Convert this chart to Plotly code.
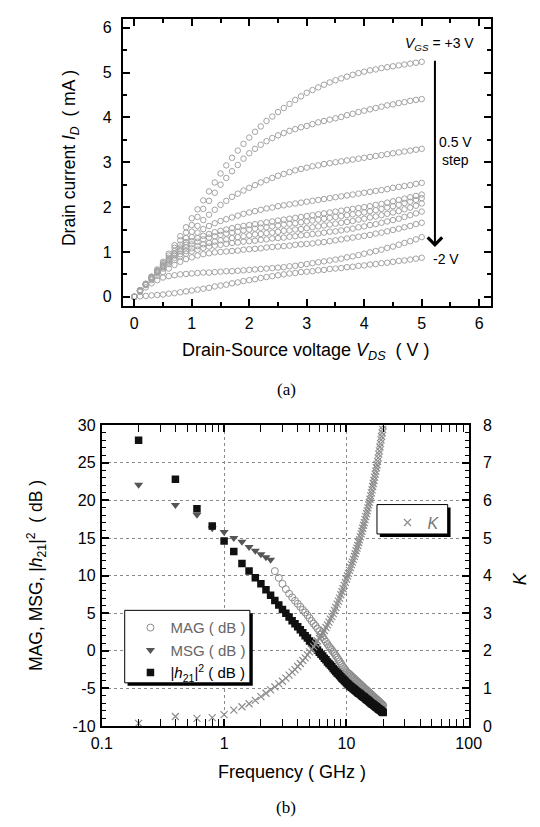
import plotly.graph_objects as go

W, H = 540, 827

# ---------------- (a) output characteristics ----------------
VDS = [0.0, 0.1, 0.2, 0.3, 0.4, 0.5, 0.6, 0.7, 0.8, 0.9, 1.0,
       1.1, 1.2, 1.3, 1.4, 1.5, 1.6, 1.7, 1.8, 1.9, 2.0,
       2.1, 2.2, 2.3, 2.4, 2.5, 2.6, 2.7, 2.8, 2.9, 3.0,
       3.1, 3.2, 3.3, 3.4, 3.5, 3.6, 3.7, 3.8, 3.9, 4.0,
       4.1, 4.2, 4.3, 4.4, 4.5, 4.6, 4.7, 4.8, 4.9, 5.0]

VGS_LABELS = ["+3", "+2.5", "+2", "+1.5", "+1", "+0.5", "0", "-0.5", "-1", "-1.5", "-2"]

ID_P3_0 = [0, 0.14, 0.29, 0.45, 0.61, 0.78, 0.96, 1.15, 1.35, 1.55, 1.75,
           1.95, 2.15, 2.35, 2.55, 2.75, 2.93, 3.10, 3.26, 3.41, 3.55,
           3.68, 3.80, 3.92, 4.02, 4.12, 4.21, 4.30, 4.39, 4.47, 4.55,
           4.61, 4.67, 4.73, 4.78, 4.83, 4.87, 4.91, 4.95, 4.99, 5.02,
           5.05, 5.07, 5.10, 5.12, 5.14, 5.16, 5.18, 5.20, 5.22, 5.24]
ID_P2_5 = [0, 0.14, 0.29, 0.44, 0.59, 0.75, 0.92, 1.09, 1.26, 1.43, 1.60,
           1.78, 1.96, 2.14, 2.32, 2.50, 2.65, 2.80, 2.94, 3.08, 3.20,
           3.30, 3.39, 3.47, 3.54, 3.60, 3.65, 3.70, 3.74, 3.78, 3.81,
           3.85, 3.89, 3.92, 3.95, 3.98, 4.01, 4.05, 4.08, 4.12, 4.15,
           4.18, 4.21, 4.24, 4.27, 4.29, 4.32, 4.34, 4.37, 4.39, 4.41]
ID_P2_0 = [0, 0.14, 0.28, 0.43, 0.57, 0.72, 0.87, 1.02, 1.16, 1.31, 1.45,
           1.58, 1.71, 1.83, 1.94, 2.05, 2.14, 2.23, 2.30, 2.37, 2.43,
           2.49, 2.55, 2.60, 2.65, 2.70, 2.74, 2.78, 2.82, 2.85, 2.88,
           2.91, 2.93, 2.96, 2.98, 3.00, 3.02, 3.04, 3.06, 3.08, 3.10,
           3.12, 3.14, 3.16, 3.18, 3.20, 3.22, 3.24, 3.26, 3.28, 3.30]
ID_P1_5 = [0, 0.14, 0.28, 0.42, 0.56, 0.70, 0.84, 0.97, 1.10, 1.22, 1.33,
           1.43, 1.51, 1.58, 1.64, 1.69, 1.73, 1.77, 1.81, 1.85, 1.88,
           1.91, 1.94, 1.97, 1.99, 2.02, 2.04, 2.06, 2.08, 2.10, 2.12,
           2.14, 2.16, 2.18, 2.20, 2.22, 2.24, 2.26, 2.28, 2.30, 2.32,
           2.34, 2.36, 2.38, 2.40, 2.43, 2.45, 2.47, 2.49, 2.52, 2.54]
ID_P1_0 = [0, 0.14, 0.28, 0.42, 0.56, 0.69, 0.82, 0.95, 1.06, 1.16, 1.24,
           1.31, 1.36, 1.40, 1.44, 1.47, 1.50, 1.53, 1.56, 1.58, 1.60,
           1.62, 1.64, 1.66, 1.68, 1.70, 1.72, 1.74, 1.76, 1.78, 1.80,
           1.82, 1.84, 1.86, 1.88, 1.90, 1.92, 1.94, 1.96, 1.98, 2.00,
           2.02, 2.05, 2.07, 2.10, 2.13, 2.16, 2.19, 2.22, 2.25, 2.28]
ID_P0_5 = [0, 0.14, 0.28, 0.42, 0.55, 0.68, 0.80, 0.92, 1.02, 1.10, 1.17,
           1.23, 1.28, 1.32, 1.35, 1.38, 1.41, 1.43, 1.45, 1.48, 1.50,
           1.52, 1.54, 1.55, 1.57, 1.59, 1.61, 1.63, 1.64, 1.66, 1.68,
           1.70, 1.72, 1.74, 1.76, 1.78, 1.80, 1.82, 1.84, 1.86, 1.88,
           1.91, 1.93, 1.96, 1.99, 2.02, 2.05, 2.09, 2.12, 2.16, 2.20]
ID_0_0 = [0, 0.14, 0.28, 0.41, 0.54, 0.66, 0.77, 0.87, 0.95, 1.02, 1.08,
          1.13, 1.17, 1.20, 1.23, 1.26, 1.28, 1.31, 1.33, 1.35, 1.37,
          1.39, 1.40, 1.42, 1.43, 1.45, 1.47, 1.48, 1.50, 1.51, 1.53,
          1.55, 1.57, 1.59, 1.61, 1.63, 1.65, 1.67, 1.69, 1.72, 1.74,
          1.77, 1.79, 1.82, 1.85, 1.88, 1.91, 1.95, 1.99, 2.03, 2.08]
ID_M0_5 = [0, 0.14, 0.27, 0.40, 0.52, 0.63, 0.73, 0.82, 0.90, 0.96, 1.01,
           1.05, 1.09, 1.12, 1.14, 1.16, 1.18, 1.20, 1.21, 1.23, 1.24,
           1.25, 1.27, 1.28, 1.30, 1.31, 1.32, 1.34, 1.35, 1.37, 1.38,
           1.40, 1.41, 1.43, 1.45, 1.46, 1.48, 1.50, 1.52, 1.55, 1.57,
           1.60, 1.62, 1.65, 1.68, 1.71, 1.74, 1.78, 1.82, 1.86, 1.90]
ID_M1_0 = [0, 0.13, 0.26, 0.37, 0.47, 0.55, 0.63, 0.71, 0.78, 0.84, 0.88,
           0.92, 0.95, 0.97, 0.99, 1.00, 1.01, 1.02, 1.03, 1.05, 1.06,
           1.07, 1.08, 1.10, 1.11, 1.12, 1.13, 1.14, 1.16, 1.17, 1.18,
           1.19, 1.21, 1.22, 1.24, 1.26, 1.28, 1.30, 1.32, 1.34, 1.36,
           1.38, 1.41, 1.43, 1.46, 1.49, 1.52, 1.55, 1.58, 1.62, 1.65]
ID_M1_5 = [0, 0.11, 0.21, 0.30, 0.37, 0.43, 0.46, 0.48, 0.50, 0.51, 0.52,
           0.53, 0.54, 0.54, 0.55, 0.56, 0.57, 0.57, 0.58, 0.59, 0.60,
           0.61, 0.62, 0.63, 0.64, 0.65, 0.66, 0.68, 0.69, 0.71, 0.73,
           0.75, 0.77, 0.79, 0.81, 0.83, 0.85, 0.88, 0.90, 0.93, 0.96,
           0.99, 1.02, 1.05, 1.09, 1.12, 1.16, 1.20, 1.24, 1.28, 1.33]
ID_M2_0 = [0, 0.01, 0.02, 0.03, 0.04, 0.05, 0.07, 0.08, 0.10, 0.12, 0.14,
           0.16, 0.18, 0.20, 0.23, 0.25, 0.27, 0.30, 0.32, 0.35, 0.37,
           0.39, 0.42, 0.44, 0.46, 0.48, 0.50, 0.52, 0.53, 0.55, 0.56,
           0.57, 0.59, 0.60, 0.62, 0.63, 0.64, 0.66, 0.67, 0.69, 0.70,
           0.72, 0.73, 0.75, 0.76, 0.78, 0.80, 0.81, 0.83, 0.85, 0.87]

ID_CURVES = [ID_P3_0, ID_P2_5, ID_P2_0, ID_P1_5, ID_P1_0, ID_P0_5,
             ID_0_0, ID_M0_5, ID_M1_0, ID_M1_5, ID_M2_0]

# ---------------- (b) RF gains and stability factor ----------------
FREQ = [0.2, 0.4, 0.6, 0.8, 1.0, 1.2, 1.4, 1.6, 1.8, 2.0,
        2.2, 2.4, 2.6, 2.8, 3.0, 3.2, 3.4, 3.6, 3.8, 4.0,
        4.2, 4.4, 4.6, 4.8, 5.0, 5.2, 5.4, 5.6, 5.8, 6.0,
        6.2, 6.4, 6.6, 6.8, 7.0, 7.2, 7.4, 7.6, 7.8, 8.0,
        8.2, 8.4, 8.6, 8.8, 9.0, 9.2, 9.4, 9.6, 9.8, 10.0,
        10.2, 10.4, 10.6, 10.8, 11.0, 11.2, 11.4, 11.6, 11.8, 12.0,
        12.2, 12.4, 12.6, 12.8, 13.0, 13.2, 13.4, 13.6, 13.8, 14.0,
        14.2, 14.4, 14.6, 14.8, 15.0, 15.2, 15.4, 15.6, 15.8, 16.0,
        16.2, 16.4, 16.6, 16.8, 17.0, 17.2, 17.4, 17.6, 17.8, 18.0,
        18.2, 18.4, 18.6, 18.8, 19.0, 19.2, 19.4, 19.6, 19.8, 20.0]

H21_DB = [28.0, 22.8, 18.9, 16.6, 14.6, 13.2, 11.6, 10.6, 9.7, 8.9,
          8.1, 7.4, 6.7, 6.1, 5.5, 5.0, 4.5, 4.0, 3.6, 3.2,
          2.8, 2.4, 2.0, 1.7, 1.3, 1.0, 0.7, 0.4, 0.1, -0.2,
          -0.45, -0.7, -1.0, -1.2, -1.5, -1.7, -1.9, -2.1, -2.35, -2.55,
          -2.75, -2.95, -3.1, -3.3, -3.45, -3.65, -3.8, -3.95, -4.1, -4.25,
          -4.4, -4.5, -4.65, -4.75, -4.85, -4.95, -5.05, -5.15, -5.25, -5.35,
          -5.45, -5.55, -5.65, -5.7, -5.8, -5.9, -6.0, -6.05, -6.15, -6.2,
          -6.3, -6.4, -6.45, -6.55, -6.6, -6.7, -6.75, -6.85, -6.9, -7.0,
          -7.05, -7.1, -7.15, -7.25, -7.3, -7.35, -7.45, -7.5, -7.55, -7.6,
          -7.7, -7.75, -7.8, -7.85, -7.9, -7.95, -8.05, -8.1, -8.15, -8.2]

# MSG: 0.2 .. 2.4 GHz ; MAG: 2.6 .. 20 GHz
MSG_DB = [22.1, 19.4, 18.1, 16.3, 15.8, 15.0, 14.5, 13.8, 13.3, 12.85, 12.45, 12.1]
MAG_DB = [10.6, 9.7, 8.9, 8.2, 7.6, 7.1, 6.65, 6.25,
          5.85, 5.45, 5.1, 4.75, 4.35, 3.95, 3.6, 3.3, 2.95, 2.6,
          2.2, 1.85, 1.5, 1.2, 0.9, 0.6, 0.35, 0.1, -0.15, -0.4,
          -0.65, -0.9, -1.15, -1.4, -1.65, -1.9, -2.15, -2.35, -2.55, -2.75,
          -2.9, -3.0, -3.1, -3.25, -3.35, -3.5, -3.6, -3.7, -3.85, -3.95,
          -4.05, -4.15, -4.25, -4.35, -4.45, -4.55, -4.65, -4.75, -4.85, -4.95,
          -5.05, -5.15, -5.2, -5.3, -5.4, -5.5, -5.55, -5.65, -5.75, -5.8,
          -5.9, -6.0, -6.05, -6.15, -6.2, -6.3, -6.35, -6.45, -6.5, -6.6,
          -6.65, -6.75, -6.8, -6.85, -6.95, -7.0, -7.1, -7.15, -7.2, -7.3]

K_FACTOR = [0.07, 0.25, 0.20, 0.22, 0.30, 0.42, 0.51, 0.59, 0.68, 0.78,
            0.87, 0.96, 1.04, 1.12, 1.19, 1.27, 1.35, 1.43, 1.50, 1.58,
            1.66, 1.74, 1.81, 1.89, 1.97, 2.04, 2.11, 2.18, 2.26, 2.33,
            2.40, 2.47, 2.54, 2.62, 2.69, 2.76, 2.84, 2.91, 2.99, 3.07,
            3.15, 3.24, 3.32, 3.40, 3.49, 3.57, 3.65, 3.74, 3.82, 3.91,
            3.99, 4.06, 4.14, 4.21, 4.29, 4.36, 4.43, 4.51, 4.58, 4.66,
            4.73, 4.80, 4.88, 4.95, 5.03, 5.11, 5.18, 5.26, 5.34, 5.41,
            5.49, 5.57, 5.65, 5.72, 5.80, 5.88, 5.95, 6.03, 6.12, 6.20,
            6.28, 6.37, 6.45, 6.53, 6.62, 6.70, 6.78, 6.87, 6.95, 7.04,
            7.13, 7.23, 7.32, 7.42, 7.51, 7.61, 7.70, 7.80, 7.89, 7.99]

FREQ_MSG = FREQ[:len(MSG_DB)]
FREQ_MAG = FREQ[len(MSG_DB):]

TOP_TICKS = [0, 1, 2, 3, 4, 5, 6]
DB_TICKS = [-10, -5, 0, 5, 10, 15, 20, 25, 30]
DB_TICKTEXT = ["-10", "-5", "0", "5", "10", "15", "20", "25", "30"]
K_TICKS = [0, 1, 2, 3, 4, 5, 6, 7, 8]
F_TICKS = [0.1, 1, 10, 100]
F_TICKTEXT = ["0.1", "1", "10", "100"]
F_MINOR = [0.2, 0.3, 0.4, 0.5, 0.6, 0.7, 0.8, 0.9, 2, 3, 4, 5, 6, 7, 8, 9,
           20, 30, 40, 50, 60, 70, 80, 90]

SANS = "Liberation Sans, Arial, Helvetica, sans-serif"
SERIF = "Liberation Serif, Times New Roman, serif"


def px(x):
    return x / W


def py(y):
    return 1 - y / H


fig = go.Figure()

for name, cur in zip(VGS_LABELS, ID_CURVES):
    fig.add_trace(go.Scatter(
        x=VDS, y=cur, mode="markers", name=name, showlegend=False,
        marker=dict(symbol="circle-open", size=5.5, color="#a3a3a3", line=dict(width=1)),
        xaxis="x", yaxis="y"))

fig.add_trace(go.Scatter(
    x=FREQ, y=K_FACTOR, mode="markers", name="<i>K</i>", legend="legend2",
    marker=dict(symbol="x-thin-open", size=7, color="#8c8c8c", line=dict(width=1.2, color="#8c8c8c")),
    xaxis="x2", yaxis="y4"))
fig.add_trace(go.Scatter(
    x=FREQ_MAG, y=MAG_DB, mode="markers",
    name='<span style="color:#666">MAG ( dB )</span>',
    marker=dict(symbol="circle-open", size=7, color="#8c8c8c", line=dict(width=1)),
    xaxis="x2", yaxis="y3"))
fig.add_trace(go.Scatter(
    x=FREQ_MSG, y=MSG_DB, mode="markers",
    name='<span style="color:#666">MSG ( dB )</span>',
    marker=dict(symbol="triangle-down", size=8, color="#555555"),
    xaxis="x2", yaxis="y3"))
fig.add_trace(go.Scatter(
    x=FREQ, y=H21_DB, mode="markers",
    name="|<i>h</i><sub>21</sub>|<sup>2</sup> ( dB )",
    marker=dict(symbol="square", size=7.5, color="#111111"),
    xaxis="x2", yaxis="y3"))

axis_common = dict(showline=True, linecolor="black", ticks="inside", tickcolor="black",
                   zeroline=False, tickfont=dict(family=SANS, size=16, color="black"))

fig.update_layout(
    width=W, height=H, margin=dict(l=0, r=0, t=0, b=0),
    paper_bgcolor="white", plot_bgcolor="white",
    font=dict(family=SANS, color="black"),
    xaxis=dict(domain=[px(117), px(502)], anchor="y", range=[-0.2, 6.2],
               tickvals=TOP_TICKS, ticklen=7, tickwidth=1.5, linewidth=2,
               mirror="allticks", showgrid=False, ticklabelstandoff=2,
               minor=dict(dtick=0.5, ticks="inside", ticklen=4, tickwidth=1.5, tickcolor="black"),
               **axis_common),
    yaxis=dict(domain=[py(304), py(11)], anchor="x", range=[-0.2, 6.2],
               tickvals=TOP_TICKS, ticklen=7, tickwidth=1.5, linewidth=2,
               mirror="allticks", showgrid=False, ticklabelstandoff=6,
               minor=dict(dtick=0.5, ticks="inside", ticklen=4, tickwidth=1.5, tickcolor="black"),
               **axis_common),
    xaxis2=dict(domain=[px(95), px(479)], anchor="y3", type="log", range=[-1, 2],
                tickvals=F_TICKS, ticktext=F_TICKTEXT, ticklen=7, tickwidth=1.5, linewidth=2,
                mirror="allticks", showgrid=True, gridcolor="#8a8a8a", griddash="dot", gridwidth=1,
                ticklabelstandoff=2,
                minor=dict(tickvals=F_MINOR, ticks="inside", ticklen=4, tickwidth=1.2,
                           tickcolor="black", showgrid=False),
                **axis_common),
    yaxis3=dict(domain=[py(733), py(426)], anchor="x2", range=[-10, 30],
                tickvals=DB_TICKS, ticktext=DB_TICKTEXT, ticklen=7, tickwidth=1.5, linewidth=2,
                showgrid=True, gridcolor="#8a8a8a", griddash="dot", gridwidth=1,
                ticklabelstandoff=1,
                minor=dict(dtick=1, ticks="inside", ticklen=4, tickwidth=1.2,
                           tickcolor="black", showgrid=False),
                **axis_common),
    yaxis4=dict(anchor="x2", overlaying="y3", side="right", range=[0, 8],
                tickvals=K_TICKS, ticklen=7, tickwidth=1.5, linewidth=2, showgrid=False,
                ticklabelstandoff=9,
                minor=dict(dtick=0.2, ticks="inside", ticklen=4, tickwidth=1.2, tickcolor="black"),
                **axis_common),
    legend=dict(x=px(125), y=py(616), xanchor="left", yanchor="top",
                bgcolor="rgba(0,0,0,0)", borderwidth=0,
                font=dict(family=SANS, size=15, color="black"),
                itemsizing="trace", tracegroupgap=0, itemwidth=30),
    legend2=dict(x=px(394), y=py(508), xanchor="left", yanchor="top",
                 bgcolor="rgba(0,0,0,0)", borderwidth=0,
                 font=dict(family=SANS, size=16, color="#777"),
                 itemsizing="trace", itemwidth=30),
)

# legend frames with drop shadows
for (x0, y0, x1, y1) in [(119, 615, 250, 689), (383, 507, 457, 537)]:
    fig.add_shape(type="rect", xref="paper", yref="paper",
                  x0=px(x0 + 3), x1=px(x1 + 3), y0=py(y1 + 3), y1=py(y0 + 3),
                  fillcolor="black", line=dict(width=0), layer="above")
    fig.add_shape(type="rect", xref="paper", yref="paper",
                  x0=px(x0), x1=px(x1), y0=py(y1), y1=py(y0),
                  fillcolor="white", line=dict(width=1, color="black"), layer="above")

# arrow VGS sweep
fig.add_annotation(x=5.23, y=1.11, ax=5.23, ay=5.30, xref="x", yref="y", axref="x", ayref="y",
                   showarrow=True, arrowhead=4, arrowsize=1.4, arrowwidth=2, arrowcolor="black",
                   text="")

ann = [
    ("<i>V</i><sub><i>GS</i></sub> = +3 V", 448, 37, 14, SANS, 0, "black"),
    ("0.5 V<br>step", 465, 146, 14, SANS, 0, "black"),
    ("-2 V", 455, 256, 14, SANS, 0, "black"),
    ("Drain-Source voltage <i>V</i><sub><i>DS</i></sub>  ( V )", 309, 351, 18, SANS, 0, "black"),
    ("Drain current <i>I</i><sub><i>D</i></sub>  ( mA )", 63, 153, 17.5, SANS, -90, "black"),
    ("(a)", 288, 389, 17, SERIF, 0, "black"),
    ("Frequency ( GHz )", 294, 780, 18, SANS, 0, "black"),
    ("MAG, MSG, |<i>h</i><sub>21</sub>|<sup>2</sup>  ( dB )", 26, 579, 17.5, SANS, -90, "black"),
    ("<i>K</i>", 533, 583, 18, SANS, -90, "black"),
    ("(b)", 288, 816, 17, SERIF, 0, "black"),
]
for text, x, y, size, fam, ang, col in ann:
    fig.add_annotation(x=px(x), y=py(y), xref="paper", yref="paper", text=text,
                       showarrow=False, textangle=ang, xanchor="center", yanchor="middle",
                       font=dict(family=fam, size=size, color=col))

fig.write_html("out.html")
